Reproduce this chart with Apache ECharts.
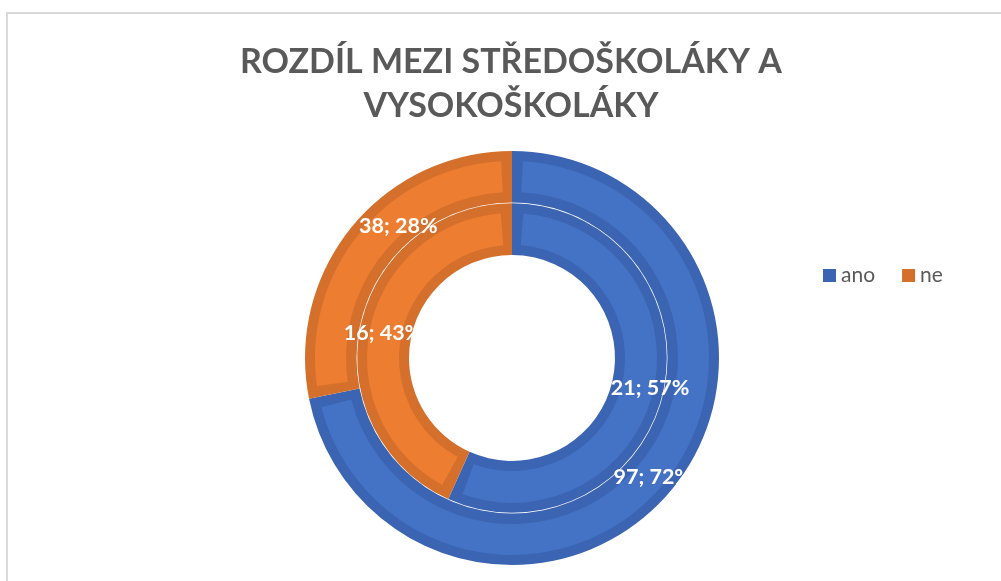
<!DOCTYPE html>
<html><head><meta charset="utf-8">
<script src="https://cdn.jsdelivr.net/npm/echarts@6/dist/echarts.min.js"></script>
<style>html,body{margin:0;padding:0;background:#fff}#c{width:1001px;height:581px}</style>
</head><body><div id="c"></div>
<script>
// ---- data ----
const categories = ['ano', 'ne'];
const outerValues = [97, 38];   // vnější prstenec
const innerValues = [21, 16];   // vnitřní prstenec
const titleLines = ['ROZDÍL MEZI STŘEDOŠKOLÁKY A', 'VYSOKOŠKOLÁKY'];

// ---- style ----
const fillColors = ['#4472C4', '#ED7D31'];
const edgeColors = ['#3B65B2', '#D5702C'];
const center = [512, 358];
const outerLabelOffsets = [[-2, 2], [29, -15]];
const innerLabelOffsets = [[9, 2], [0, 3]];

function baseData(values) {
  return categories.map((name, i) => ({ name, value: values[i], itemStyle: { color: edgeColors[i] } }));
}
function fillData(values, offsets) {
  return categories.map((name, i) => ({
    name, value: values[i],
    itemStyle: { color: fillColors[i] },
    label: { offset: offsets[i] }
  }));
}
const labelStyle = {
  show: true, position: 'inside', formatter: '{c}; {d}%',
  color: '#ffffff', fontFamily: 'Lato', fontWeight: 'bold', fontSize: 21.5
};
const common = {
  type: 'pie', center: center, startAngle: 90, clockwise: true,
  silent: true, percentPrecision: 0, avoidLabelOverlap: false,
  labelLine: { show: false }, emphasis: { disabled: true },
  itemStyle: { borderWidth: 0 }
};

const chart = echarts.init(document.getElementById('c'), null, { renderer: 'canvas' });
chart.setOption({
  animation: false,
  backgroundColor: '#ffffff',
  title: {
    text: titleLines.join('\n'),
    left: 511, top: 40, textAlign: 'center', padding: 0,
    textStyle: { fontFamily: 'Lato', fontWeight: 'bold', fontSize: 34, color: '#595959', lineHeight: 44 }
  },
  legend: {
    data: categories, orient: 'horizontal', left: 818, top: 260,
    icon: 'rect', itemWidth: 13, itemHeight: 13, itemGap: 27,
    selectedMode: false,
    textStyle: { fontFamily: 'Lato', fontSize: 21, color: '#595959' }
  },
  graphic: [{
    type: 'rect', shape: { x: 7, y: 13, width: 1100, height: 700 },
    style: { fill: 'none', stroke: '#d9d9d9', lineWidth: 2 }, silent: true, z: -1
  }],
  series: [
    Object.assign({}, common, { name: 'vnější', radius: [155.5, 207], data: baseData(outerValues), label: { show: false } }),
    Object.assign({}, common, { name: 'vnitřní', radius: [103, 154.8], data: baseData(innerValues), label: { show: false } }),
    Object.assign({}, common, { name: 'vnější výplň', radius: [166, 197], padAngle: 6.3, data: fillData(outerValues, outerLabelOffsets), label: labelStyle }),
    Object.assign({}, common, { name: 'vnitřní výplň', radius: [113, 145], padAngle: 8.9, data: fillData(innerValues, innerLabelOffsets), label: labelStyle })
  ]
});
</script>
</body></html>
